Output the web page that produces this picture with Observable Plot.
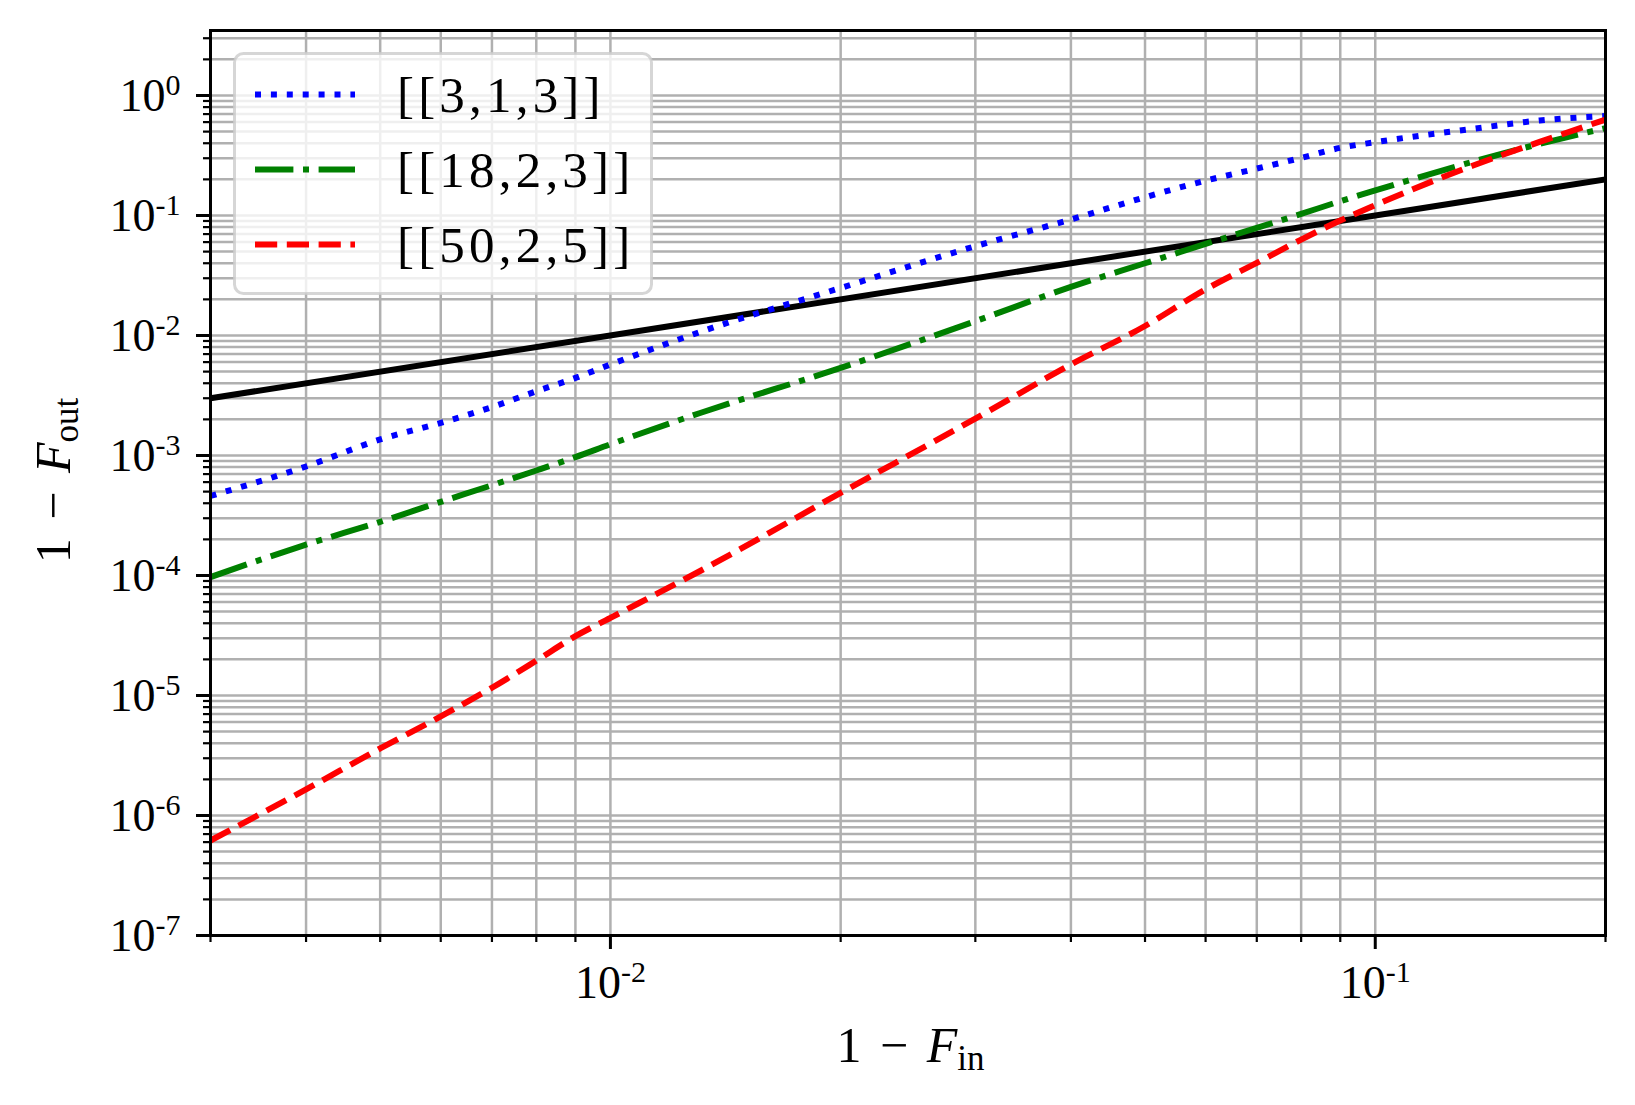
<!DOCTYPE html>
<html><head><meta charset="utf-8">
<script src="https://cdn.jsdelivr.net/npm/d3@7"></script>
<script src="https://cdn.jsdelivr.net/npm/@observablehq/plot@0.6"></script>
<style>html,body{margin:0;padding:0;background:#fff;} svg{display:block;}</style>
</head><body><div id="chart"></div>
<script>
// ---- data ----
const fin = [0.003,0.004,0.005,0.006,0.007,0.008,0.009,0.01,0.0131,0.02,0.03,0.04,0.05,0.06,0.07,0.08,0.09,0.1,0.134,0.164,0.2];
const code313  = [4.6e-4,8.1e-4,1.36e-3,1.87e-3,2.53e-3,3.43e-3,4.43e-3,5.73e-3,1.07e-2,2.49e-2,5.55e-2,9.26e-2,0.142,0.195,0.246,0.302,0.366,0.408,0.527,0.619,0.675];
const code1823 = [9.7e-5,1.81e-4,2.8e-4,4.11e-4,5.65e-4,7.5e-4,9.7e-4,1.24e-3,2.26e-3,5.37e-3,1.316e-2,2.54e-2,4.0e-2,5.8e-2,7.88e-2,0.103,0.1316,0.1616,0.28,0.395,0.535];
const code5025 = [6.19e-7,1.65e-6,3.62e-6,6.7e-6,1.16e-5,1.95e-5,3.12e-5,4.43e-5,1.09e-4,4.88e-4,2.03e-3,5.73e-3,1.2e-2,2.42e-2,4.03e-2,6.3e-2,9.08e-2,0.122,0.26,0.41,0.63];
const diagX = [0.003, 0.2];
const diagY = [0.003, 0.2];
const seriesNames  = ["[[3,1,3]]", "[[18,2,3]]", "[[50,2,5]]"];
const seriesColors = ["#0000ff", "#008000", "#ff0000"];
const seriesDash   = ["6,9.9", "38.4,9.6,6,9.6", "22.2,9.6"];
const xDomain = [0.003, 0.2];
const yDomain = [1e-7, 3.48];
const xMajorTicks = [0.01, 0.1];
const yMajorTicks = [1e-7,1e-6,1e-5,1e-4,1e-3,1e-2,1e-1,1];
const xMinorTicks = [0.003,0.004,0.005,0.006,0.007,0.008,0.009,0.02,0.03,0.04,0.05,0.06,0.07,0.08,0.09,0.2];
const yMinorTicks = [];
for (let e = -7; e <= 0; e++) for (let m = 2; m <= 9; m++) { const v = m * Math.pow(10, e); if (v <= yDomain[1]) yMinorTicks.push(+v.toPrecision(3)); }
const xLabel = ["1 − ", "F", "in"];
const yLabel = ["1 − ", "F", "out"];

// ---- build ----
const series = [code313, code1823, code5025];
const rows = [];
series.forEach((vals, i) => vals.forEach((v, j) => rows.push({x: fin[j], y: v, s: seriesNames[i]})));
const diag = diagX.map((x, i) => ({x, y: diagY[i]}));
const expOf = d => Math.round(Math.log10(d));
const SERIF = "'Liberation Serif','Times New Roman',serif";
const gridStyle = {stroke: "#b0b0b0", strokeOpacity: 1, strokeWidth: 2.5};

const W = 1635, H = 1105, ML = 210, MR = 30, MT = 30, MB = 170;

const plot = Plot.plot({
  width: W, height: H,
  marginLeft: ML, marginRight: MR, marginTop: MT, marginBottom: MB,
  style: {background: "white", fontFamily: SERIF},
  x: {type: "log", domain: xDomain, label: null},
  y: {type: "log", domain: yDomain, label: null},
  marks: [
    Plot.gridX({ticks: xMinorTicks, ...gridStyle}),
    Plot.gridX({ticks: xMajorTicks, ...gridStyle}),
    Plot.gridY({ticks: yMinorTicks, ...gridStyle}),
    Plot.gridY({ticks: yMajorTicks, ...gridStyle}),
    Plot.line(diag, {x: "x", y: "y", stroke: "black", strokeWidth: 6, clip: true}),
    ...seriesNames.map((name, i) => Plot.line(rows.filter(r => r.s === name), {
      x: "x", y: "y", stroke: seriesColors[i], strokeWidth: 6,
      strokeDasharray: seriesDash[i], strokeLinecap: "butt", curve: "monotone-x", clip: true
    })),
    Plot.frame({stroke: "black", strokeWidth: 3}),
    Plot.axisY({ticks: yMinorTicks, tickSize: 7, tickFormat: () => "", strokeWidth: 2.2, label: null}),
    Plot.axisY({ticks: yMajorTicks, tickSize: 14, tickFormat: () => "", strokeWidth: 3, label: null}),
    Plot.axisX({ticks: xMinorTicks, tickSize: 7, tickFormat: () => "", strokeWidth: 2.2, label: null}),
    Plot.axisX({ticks: xMajorTicks, tickSize: 14, tickFormat: () => "", strokeWidth: 3, label: null}),
    Plot.text(yMajorTicks, {y: d => d, frameAnchor: "left", lineAnchor: "middle", text: d => "10^" + expOf(d),
      textAnchor: "end", dx: -30, dy: 1, fontSize: 46, fontFamily: SERIF, fill: "black", className: "ytl"}),
    Plot.text(xMajorTicks, {x: d => d, frameAnchor: "bottom", lineAnchor: "middle", text: d => "10^" + expOf(d),
      textAnchor: "middle", dy: 48, fontSize: 46, fontFamily: SERIF, fill: "black", className: "xtl"})
  ]
});
document.getElementById("chart").appendChild(plot);

const svg = d3.select(plot);
// superscript exponents
svg.selectAll(".ytl text, .xtl text").each(function() {
  const t = this.textContent; const [base, ex] = t.split("^");
  const el = d3.select(this); el.text(null);
  el.append("tspan").text(base);
  el.append("tspan").attr("dy", -16).attr("font-size", 30).text(ex);
});

// axis labels
const xl = svg.append("text").attr("x", (ML + W - MR) / 2 + 3).attr("y", 1062)
  .attr("text-anchor", "middle").attr("font-family", SERIF).attr("font-size", 50).attr("word-spacing", 6).attr("fill", "black");
xl.append("tspan").text(xLabel[0]);
xl.append("tspan").attr("font-style", "italic").text(xLabel[1]);
xl.append("tspan").attr("dy", 8).attr("font-size", 35).text(xLabel[2]);

const yl = svg.append("text").attr("transform", `translate(70,${(MT + H - MB) / 2 - 2}) rotate(-90)`)
  .attr("text-anchor", "middle").attr("font-family", SERIF).attr("font-size", 50).attr("word-spacing", 6).attr("fill", "black");
yl.append("tspan").text(yLabel[0]);
yl.append("tspan").attr("font-style", "italic").text(yLabel[1]);
yl.append("tspan").attr("dy", 8).attr("font-size", 35).text(yLabel[2]);

// legend
const lg = svg.append("g").attr("text-anchor", "start");
lg.append("rect").attr("x", 234.5).attr("y", 53.5).attr("width", 417).attr("height", 240).attr("rx", 9)
  .attr("fill", "white").attr("fill-opacity", 0.8).attr("stroke", "#cccccc").attr("stroke-opacity", 0.8).attr("stroke-width", 3);
seriesNames.forEach((name, i) => {
  const cy = 94.5 + i * 75;
  lg.append("line").attr("x1", 255).attr("x2", 355).attr("y1", cy).attr("y2", cy)
    .attr("stroke", seriesColors[i]).attr("stroke-width", 6).attr("stroke-dasharray", seriesDash[i]);
  lg.append("text").attr("x", 397).attr("y", cy + 17).attr("text-anchor", "start").attr("font-family", SERIF).attr("font-size", 51)
    .attr("letter-spacing", 4.2).attr("fill", "black").text(name);
});
</script>
</body></html>
